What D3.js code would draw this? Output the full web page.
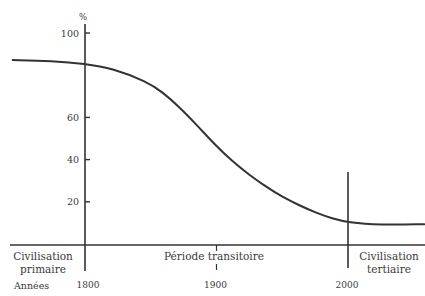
<!DOCTYPE html>
<html>
<head>
<meta charset="utf-8">
<script src="https://cdn.jsdelivr.net/npm/d3@7"></script>
<style>
    body { margin: 0; background: #fff; }
</style>
</head>
<body>
<div id="chart-container"></div>
<script>
// years of the curve
const YEARS = [1745, 1775, 1800, 1821, 1847, 1859, 1872, 1885, 1900, 1912, 1925, 1938, 1950, 1963, 1976, 1988, 2000, 2024, 2058];

// share of population (%)
const VALUES = [87.2, 86.8, 85.5, 83.2, 77.0, 72.0, 64.8, 56.4, 46.3, 39.2, 32.7, 27.0, 22.3, 18.3, 14.7, 12.1, 10.2, 9.0, 9.4];

// y axis tick labels
const Y_TICKS = [20, 40, 60, 100];

// x axis tick labels
const X_TICKS = [1800, 1900, 2000];

// period labels (first line, second line)
const PERIODS = [
    ["Civilisation", "primaire"],
    ["Période transitoire", ""],
    ["Civilisation", "tertiaire"],
];

function drawChart() {
    // set chart dimensions
    const width = 425;
    const height = 296;
    const font = "'DejaVu Serif', serif";

    // appending svg tag for chart
    const chart = d3.select("#chart-container")
        .append("svg")
        .attr("width", width)
        .attr("height", height)
        .attr("font-family", font)
        .style("font-family", font);

    // crate x scale (years)
    const x = d3.scaleLinear()
        .domain([1800, 2000])
        .range([85, 348]);

    // crate y scale (%)
    const y = d3.scaleLinear()
        .domain([0, 100])
        .range([244, 33]);

    const ink = "#333";
    const textInk = "#3a3a3a";

    // horizontal base line
    chart.append("line")
        .attr("x1", 10).attr("x2", width)
        .attr("y1", 245).attr("y2", 245)
        .attr("stroke", ink).attr("stroke-width", 1.6);

    // vertical axis at 1800
    chart.append("line")
        .attr("x1", x(1800)).attr("x2", x(1800))
        .attr("y1", 24).attr("y2", 271)
        .attr("stroke", ink).attr("stroke-width", 1.6);

    // vertical line at 2000
    chart.append("line")
        .attr("x1", x(2000)).attr("x2", x(2000))
        .attr("y1", 172).attr("y2", 268)
        .attr("stroke", ink).attr("stroke-width", 1.6);

    // small ticks at 1900
    chart.append("line")
        .attr("x1", x(1900)).attr("x2", x(1900))
        .attr("y1", 245).attr("y2", 251)
        .attr("stroke", ink).attr("stroke-width", 1.2);
    chart.append("line")
        .attr("x1", x(1900)).attr("x2", x(1900))
        .attr("y1", 264).attr("y2", 270)
        .attr("stroke", ink).attr("stroke-width", 1.2);

    // y ticks and labels
    const yTicks = chart.append("g")
        .selectAll("g")
        .data(Y_TICKS)
        .enter()
        .append("g")
        .attr("transform", (d) => `translate(${x(1800)},${y(d)})`);

    yTicks.append("line")
        .attr("x1", 0).attr("x2", 5)
        .attr("stroke", ink).attr("stroke-width", 1.4);

    yTicks.append("text")
        .attr("x", -6)
        .attr("y", 3.5)
        .attr("text-anchor", "end")
        .attr("font-size", "9.5px")
        .attr("fill", textInk)
        .text((d) => d);

    // unit label
    chart.append("text")
        .attr("x", x(1800) - 2)
        .attr("y", 20)
        .attr("text-anchor", "middle")
        .attr("font-size", "8.5px")
        .attr("fill", textInk)
        .text("%");

    // curve
    const line = d3.line()
        .x((d) => x(d[0]))
        .y((d) => y(d[1]))
        .curve(d3.curveBasis);

    chart.append("path")
        .datum(YEARS.map((yr, i) => [yr, VALUES[i]]))
        .attr("d", line)
        .attr("fill", "none")
        .attr("stroke", ink)
        .attr("stroke-width", 2)
        .attr("stroke-linecap", "round");

    // period labels
    const periodX = [43, 214, 389];
    PERIODS.forEach((p, i) => {
        chart.append("text")
            .attr("x", periodX[i])
            .attr("y", 260)
            .attr("text-anchor", "middle")
            .attr("font-size", "10.5px")
            .attr("fill", textInk)
            .text(p[0]);
        if (p[1]) {
            chart.append("text")
                .attr("x", periodX[i])
                .attr("y", 273)
                .attr("text-anchor", "middle")
                .attr("font-size", "10.5px")
                .attr("fill", textInk)
                .text(p[1]);
        }
    });

    // year labels
    chart.append("text")
        .attr("x", 14)
        .attr("y", 289)
        .attr("font-size", "9.5px")
        .attr("fill", textInk)
        .text("Années");

    chart.append("g")
        .selectAll("text")
        .data(X_TICKS)
        .enter()
        .append("text")
        .attr("x", (d) => x(d) + (d === 1800 ? 3 : -1))
        .attr("y", 288)
        .attr("text-anchor", "middle")
        .attr("font-size", "9px")
        .attr("fill", textInk)
        .text((d) => d);
}

window.onload = () => {
    drawChart();
};
</script>
</body>
</html>
